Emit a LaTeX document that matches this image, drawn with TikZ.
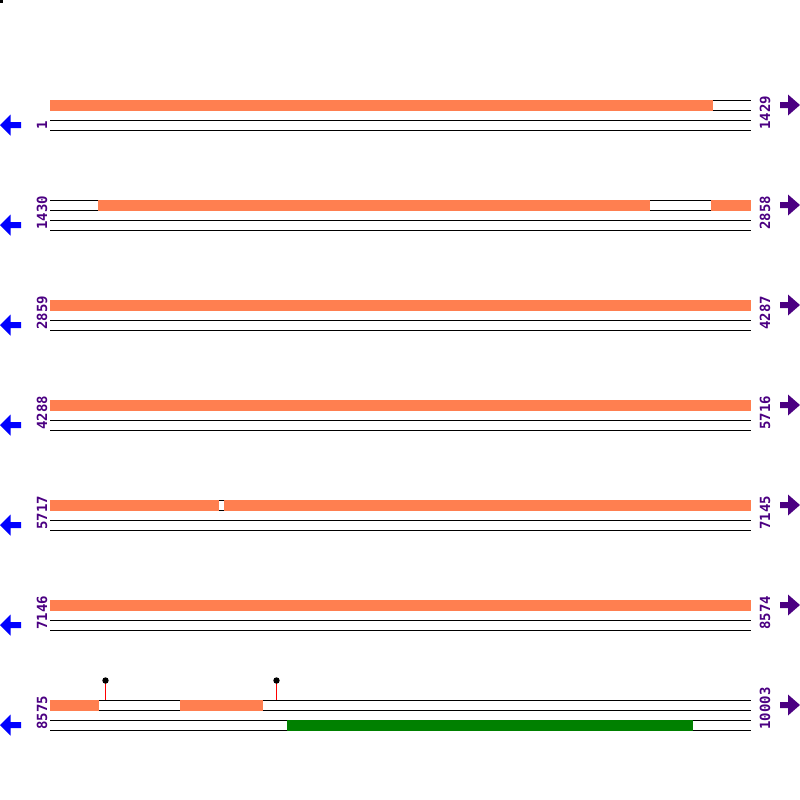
\documentclass[tikz,border=0pt]{standalone}
\usepackage{fontspec}
\setmonofont{DejaVu Sans Mono}
\definecolor{featorange}{HTML}{FF7F50}
\definecolor{featgreen}{HTML}{008000}
\definecolor{posviolet}{HTML}{4B0082}

\begin{document}
\begin{tikzpicture}[x=0.5pt,y=-0.5pt,
		strand/.style={black,line width=0.5pt},
		featbox/.style={fill=featorange},
		orfbox/.style={fill=featgreen},
		poslabel/.style={font=\ttfamily\bfseries\fontsize{7}{8}\selectfont,text=posviolet,
			rotate=90,anchor=base west,inner sep=0pt},
		revarrow/.style={fill=blue},
		fwdarrow/.style={fill=posviolet},
		pin/.style={red,line width=0.5pt}]
	\useasboundingbox (0,0) rectangle (800,800);
	\fill (0,0) rectangle (3,3);
	% one row per 1429 bp
	\foreach \r/\first/\last [evaluate=\r as \y using 100*\r+100] in
		{0/1/1429,1/1430/2858,2/2859/4287,3/4288/5716,4/5717/7145,5/7146/8574,6/8575/10003}
	{
		\draw[strand] (50,\y+0.5) -- (751,\y+0.5) (50,\y+10.5) -- (751,\y+10.5)
		              (50,\y+20.5) -- (751,\y+20.5) (50,\y+30.5) -- (751,\y+30.5);
		\node[poslabel] (start-\r) at (47,\y+30) {\first};
		\node[poslabel] (end-\r) at (770,\y+30) {\last};
		\fill[revarrow] (0,\y+25) -- (10.5,\y+14.5) -- (10.5,\y+22) -- (21,\y+22)
		              -- (21,\y+28) -- (10.5,\y+28) -- (10.5,\y+35.5) -- cycle;
		\fill[fwdarrow] (800,\y+5) -- (788,\y-5.5) -- (788,\y+2) -- (780,\y+2)
		              -- (780,\y+8) -- (788,\y+8) -- (788,\y+15.5) -- cycle;
	}
	% features on the top strand
	\fill[featbox] (50,100) rectangle (713,111);
	\fill[featbox] (98,200) rectangle (650,211);
	\fill[featbox] (711,200) rectangle (751,211);
	\fill[featbox] (50,300) rectangle (751,311);
	\fill[featbox] (50,400) rectangle (751,411);
	\fill[featbox] (50,500) rectangle (219,511);
	\fill[featbox] (224,500) rectangle (751,511);
	\fill[featbox] (50,600) rectangle (751,611);
	\fill[featbox] (50,700) rectangle (99,711);
	\fill[featbox] (180,700) rectangle (263,711);
	% reverse strand
	\fill[orfbox] (287,720) rectangle (693,731);
	% sites
	\coordinate (site-a) at (105.5,680.5);
	\coordinate (site-b) at (276.5,680.5);
	\draw[pin] (site-a) -- (105.5,700);
	\draw[pin] (site-b) -- (276.5,700);
	\fill (site-a) circle (3.2);
	\fill (site-b) circle (3.2);
\end{tikzpicture}
\end{document}
